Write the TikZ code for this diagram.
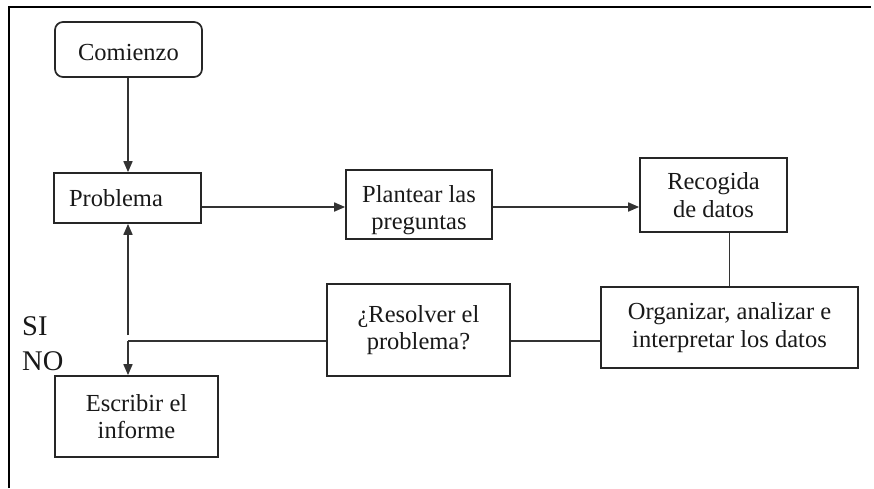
\documentclass[tikz,border=0pt]{standalone}
\usepackage{fontspec}
\setmainfont{Liberation Serif}
\usetikzlibrary{arrows.meta}
\begin{document}
\begin{tikzpicture}[x=1pt,y=-1pt,
  box/.style={draw=black!85, line width=1.7pt, fill=white, align=center, inner sep=0pt,
    text=black!90, font=\fontsize{24.5}{27.5}\selectfont},
  conn/.style={draw=black!80, line width=1.7pt},
  arr/.style={conn, -{Triangle[length=11pt,width=9pt]}},
  lbl/.style={anchor=west, inner sep=0pt, text=black!90, font=\fontsize{28.5}{32}\selectfont}]
\useasboundingbox (0,0) rectangle (874,488);
\fill[white] (0,0) rectangle (874,488);
\draw[line width=2pt] (9,488) -- (9,7) -- (871,7);

\node[box, rounded corners=8pt, minimum width=147pt, minimum height=55pt] (com) at (128.5,49.5) {\raisebox{-3pt}[\height][\depth]{Comienzo}};
\node[box, minimum width=147pt, minimum height=50pt, text width=117pt, align=left, inner xsep=15pt] (prob) at (127.5,198) {Problema};
\node[box, minimum width=146pt, minimum height=69pt] (plan) at (419,204.5) {\raisebox{-6pt}[\height][\depth]{\begin{tabular}{@{}c@{}}Plantear las\\preguntas\end{tabular}}};
\node[box, minimum width=147pt, minimum height=74pt] (rec) at (713.5,195) {Recogida\\de datos};
\node[box, minimum width=257pt, minimum height=81pt] (org) at (729.5,327.5) {Organizar, analizar e\\interpretar los datos};
\node[box, minimum width=183pt, minimum height=92pt] (res) at (418.5,330) {¿Resolver el\\problema?};
\node[box, minimum width=163pt, minimum height=81pt] (esc) at (136.5,416.5) {Escribir el\\informe};

\node[lbl] (si) at (22,326) {SI};
\node[lbl] (no) at (22,361) {NO};

\coordinate (c1) at (128,341);
\coordinate (c2) at (128,335);

\draw[arr] (com.south -| c1) -- (prob.north -| c1);
\draw[arr] ([yshift=-9pt]prob.east) -- ([yshift=-9pt]prob.east -| plan.west);
\draw[arr] ([yshift=-2.5pt]plan.east) -- ([yshift=-2.5pt]plan.east -| rec.west);
\draw[conn] (org.north |- rec.south) -- (org.north);
\draw[conn] (org.west |- c1) -- (res.east |- c1);
\draw[conn] (res.west |- c1) -- (c1);
\draw[arr] (c1) -- (c1 |- esc.north);
\draw[arr] (c2) -- (c2 |- prob.south);
\end{tikzpicture}
\end{document}
